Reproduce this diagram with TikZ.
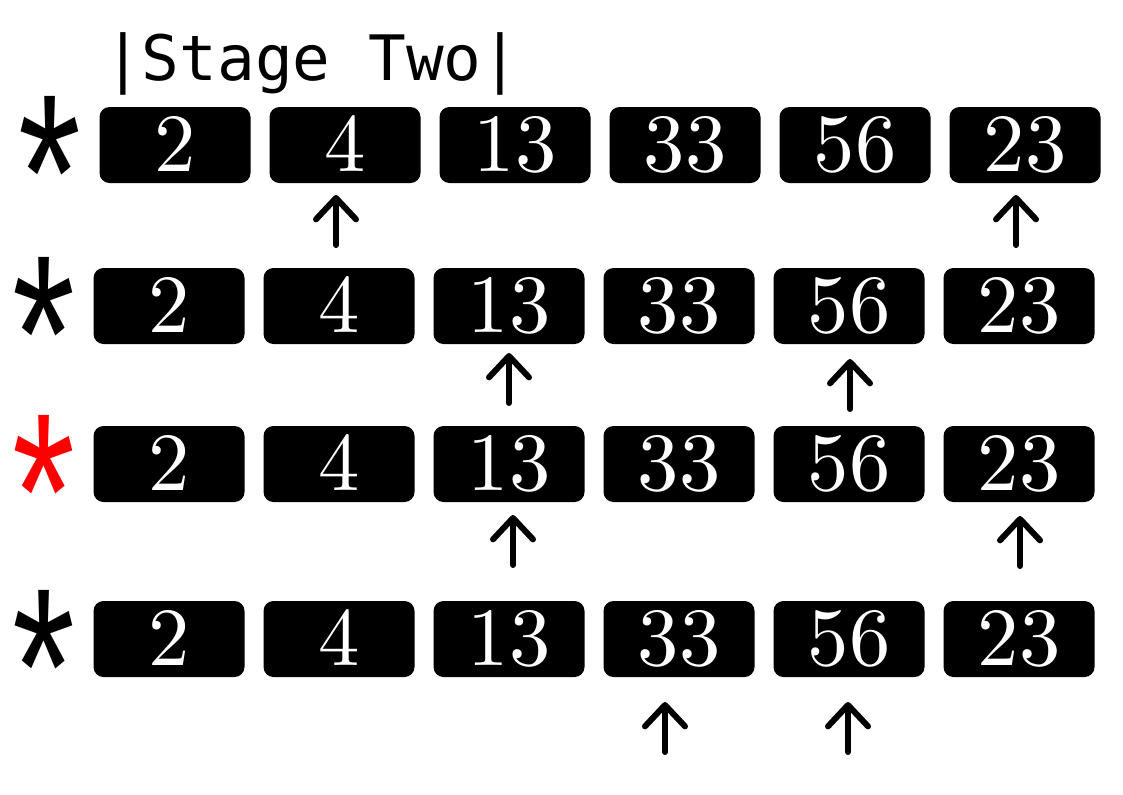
\documentclass[tikz,border=0pt]{standalone}
\usepackage{fontspec}
\newfontfamily\titlefont{DejaVu Sans Mono}
\newfontfamily\starfont{Liberation Sans}
\newfontfamily\cellfont{lmroman10-regular}[Extension=.otf]
\usetikzlibrary{arrows.meta}

\tikzset{
  cell/.style={fill=black,text=white,rounded corners=7.5pt,
    minimum width=113.25pt,minimum height=57pt,inner sep=0pt,
    text height=40pt,text depth=0pt,
    font=\cellfont\fontsize{62}{62}\selectfont},
  mark star/.style={anchor=base,inner sep=0pt,
    font=\starfont\fontsize{168}{168}\selectfont},
  stage/.style={anchor=base west,inner sep=0pt,
    font=\titlefont\fontsize{47}{47}\selectfont},
  ptr/.style={line width=4.5pt,line cap=round,line join=round,
    -{Straight Barb[length=16pt,width=30pt,round]}},
}

\begin{document}
\begin{tikzpicture}[x=0.75pt,y=-0.75pt]
\useasboundingbox (0,0) rectangle (1123,794);

\node [stage] (title) at (104,80) {|Stage Two|};

% one row of cells per pass
\foreach \r/\y/\x/\c in {1/145/175/black,2/306/169/black,3/464/169/red,4/639/169/black}{
  \node [mark star,text=\c] (s\r) at (\x-125,\y+105) {\scalebox{0.72}[1]{*}};
  \foreach \v [count=\i] in {2,4,13,33,56,23}
    \node [cell] (b\r\i) at (\x+170*\i-170,\y) {\v};
}

% pointers under the cells
\foreach \n/\x/\t in {12/336/195,16/1016/195,23/509/353,25/850/359,
                      33/513/515,36/1020/516,44/665/702,45/848/702}{
  \coordinate (p\n) at (\x,\t+50);
  \coordinate (q\n) at (\x,\t);
  \draw [ptr] (p\n) -- (q\n);
}
\end{tikzpicture}
\end{document}
